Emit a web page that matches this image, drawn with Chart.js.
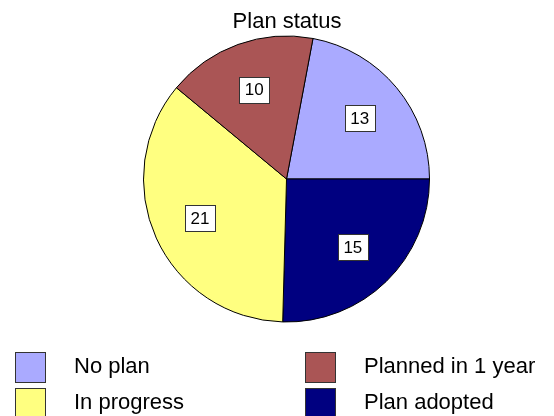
<!DOCTYPE html>
<html>
<head>
<meta charset="utf-8">
<script src="https://cdn.jsdelivr.net/npm/chart.js@4"></script>
<style>
  html, body { margin: 0; padding: 0; background: #fff; }
  #wrap { width: 554px; height: 416px; position: relative; }
</style>
</head>
<body>
<div id="wrap"><canvas id="chart"></canvas></div>
<script>
// slices in clockwise order starting at the "No plan" wedge
const labels = ["No plan", "Plan adopted", "In progress", "Planned in 1 year"];
const values = [13, 15, 21, 10];
const colors = ["#AAAAFF", "#000080", "#FFFF80", "#AA5555"];
// legend reads row by row
const legendOrder = [0, 3, 2, 1];
const title = "Plan status";

const total = values.reduce((a, b) => a + b, 0);
const rotation = 90 - (values[0] / total) * 360;

// value boxes + title + two-column legend
const extras = {
  id: "extras",
  afterDatasetsDraw(chart) {
    const ctx = chart.ctx;
    const meta = chart.getDatasetMeta(0);
    ctx.save();
    ctx.font = "17px 'Liberation Sans', Arial, sans-serif";
    ctx.textAlign = "center";
    ctx.textBaseline = "middle";
    meta.data.forEach((arc, i) => {
      const p = arc.getProps(["x", "y", "startAngle", "endAngle", "outerRadius"], true);
      const mid = (p.startAngle + p.endAngle) / 2;
      const r = p.outerRadius * 0.665;
      const cx = p.x + Math.cos(mid) * r;
      const cy = p.y + Math.sin(mid) * r;
      const w = 30, h = 26;
      const bx = Math.round(cx - w / 2) + 0.5, by = Math.round(cy - h / 2) + 0.5;
      ctx.fillStyle = "#fff";
      ctx.fillRect(bx, by, w, h);
      ctx.strokeStyle = "#333";
      ctx.lineWidth = 1;
      ctx.strokeRect(bx, by, w, h);
      ctx.fillStyle = "#000";
      ctx.fillText(String(values[i]), cx, cy + 1);
    });

    ctx.font = "22px 'Liberation Sans', Arial, sans-serif";
    ctx.textBaseline = "alphabetic";
    ctx.fillText(title, 287, 28);

    ctx.textAlign = "left";
    ctx.textBaseline = "middle";
    const colX = [15, 305];
    const rowY = [352, 388];
    legendOrder.forEach((idx, k) => {
      const x = colX[k % 2];
      const y = rowY[Math.floor(k / 2)];
      ctx.fillStyle = colors[idx];
      ctx.fillRect(x + 0.5, y + 0.5, 30, 30);
      ctx.strokeStyle = "#333";
      ctx.strokeRect(x + 0.5, y + 0.5, 30, 30);
      ctx.fillStyle = "#000";
      ctx.fillText(labels[idx], x + 59, y + 15);
    });
    ctx.restore();
  }
};

new Chart(document.getElementById("chart"), {
  type: "pie",
  data: {
    labels: labels,
    datasets: [{
      data: values,
      backgroundColor: colors,
      borderColor: "#000",
      borderWidth: 1,
      hoverOffset: 0,
      radius: 143,
    }],
  },
  options: {
    responsive: true,
    maintainAspectRatio: false,
    animation: false,
    rotation: rotation,
    layout: { padding: { left: 143.5, right: 124.5, top: 36, bottom: 94 } },
    plugins: {
      legend: { display: false },
      tooltip: { enabled: false },
    },
  },
  plugins: [extras],
});
</script>
</body>
</html>
